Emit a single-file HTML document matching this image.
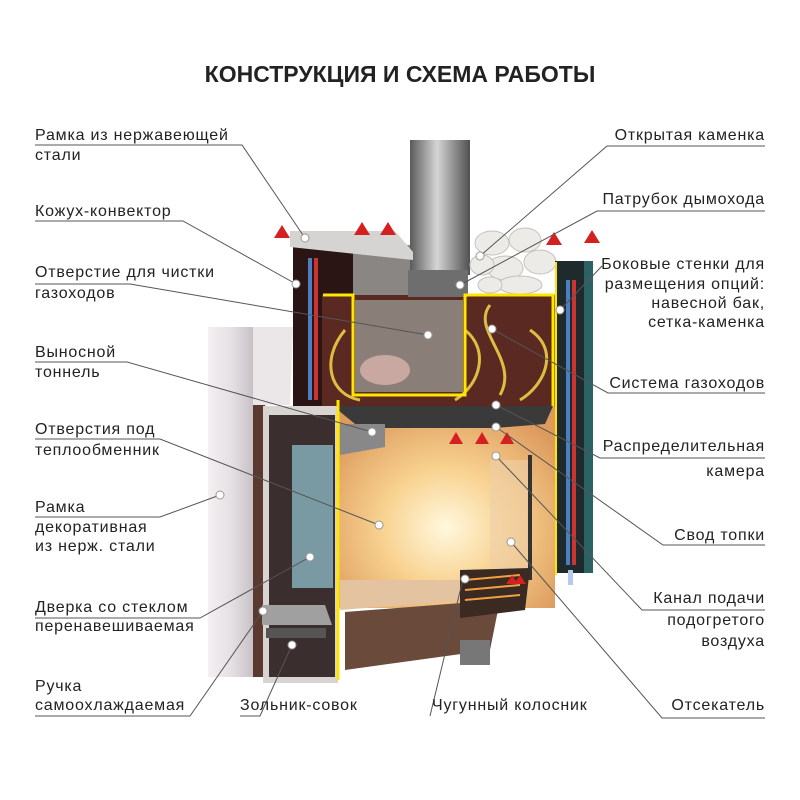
<!DOCTYPE html>
<html><head><meta charset="utf-8"><style>
body{margin:0;background:#fff;}
svg{display:block}
text{font-family:"Liberation Sans",sans-serif;font-size:16px;letter-spacing:0.8px;fill:#222}
.r{text-anchor:end}
</style></head><body>
<svg width="800" height="800" viewBox="0 0 800 800">
<defs>
<radialGradient id="fire" cx="0.5" cy="0.6" r="0.65"><stop offset="0" stop-color="#fff8de"/><stop offset="0.45" stop-color="#f8d290"/><stop offset="1" stop-color="#dc9a5c"/></radialGradient>
<linearGradient id="pan" x1="0" x2="1"><stop offset="0" stop-color="#f4f0f2"/><stop offset="0.5" stop-color="#e6e1e4"/><stop offset="1" stop-color="#c8c2c6"/></linearGradient>
<linearGradient id="pipe" x1="0" x2="1"><stop offset="0" stop-color="#5a5a5a"/><stop offset="0.45" stop-color="#d5d5d5"/><stop offset="1" stop-color="#505050"/></linearGradient>
</defs>
<text x="400" y="82" text-anchor="middle" style="font-size:23px;font-weight:bold;letter-spacing:0;fill:#222">КОНСТРУКЦИЯ И СХЕМА РАБОТЫ</text>
<!-- chimney -->
<rect x="410" y="140" width="60" height="135" fill="url(#pipe)"/>
<!-- stones -->
<g fill="#ecebe7" stroke="#c4c2be">
<ellipse cx="492" cy="243" rx="17" ry="12"/><ellipse cx="525" cy="240" rx="16" ry="12"/><ellipse cx="540" cy="262" rx="16" ry="12"/><ellipse cx="505" cy="268" rx="18" ry="12"/><ellipse cx="482" cy="265" rx="12" ry="10"/><ellipse cx="520" cy="285" rx="22" ry="9"/><ellipse cx="490" cy="285" rx="12" ry="8"/></g>
<!-- left convector -->
<rect x="293" y="245" width="60" height="162" fill="#2a1414"/>
<polygon points="353,245 410,245 410,295 353,295" fill="#8a8684"/>
<polygon points="290,231 395,231 413,252 413,260 290,247" fill="#d6d4d2"/>
<rect x="308" y="258" width="4" height="142" fill="#4a7fc1"/><rect x="314" y="258" width="4" height="142" fill="#c33"/>
<!-- upper box -->
<rect x="322" y="295" width="233" height="112" fill="#5a2a22"/>
<rect x="355" y="300" width="108" height="92" fill="#8a7f78"/>
<ellipse cx="385" cy="370" rx="25" ry="15" fill="#c8a8a0"/>
<rect x="408" y="270" width="60" height="27" fill="#6e6e6e"/>
<g fill="none" stroke="#ffe24a" stroke-width="3" opacity="0.8">
<path d="M345 330 C 320 360, 330 395, 360 400"/><path d="M465 330 C 490 350, 480 385, 455 400"/>
<path d="M490 305 C 470 330, 520 360, 500 395"/><path d="M530 330 C 560 350, 545 385, 520 400"/>
</g>
<polyline points="323,295 353,295 353,395 465,395 465,295 553,295 553,407" fill="none" stroke="#ffe600" stroke-width="3"/>
<!-- firebox -->
<rect x="337" y="407" width="218" height="201" fill="url(#fire)"/>
<polygon points="333,406 553,406 545,424 495,428 360,428" fill="#3a3a3a"/>
<polygon points="340,424 385,424 385,447 340,455" fill="#888"/>
<rect x="490" y="460" width="40" height="115" fill="#efcfa8" opacity="0.6"/>
<rect x="528" y="455" width="4" height="125" fill="#333"/>
<polygon points="340,580 470,580 470,600 340,610" fill="#e3c3a0"/>
<polygon points="345,612 500,600 490,650 345,670" fill="#6a4a3a"/>
<polygon points="460,570 530,568 525,610 460,618" fill="#3a2a22"/>
<g stroke="#f4a040" stroke-width="2"><line x1="465" y1="580" x2="520" y2="575"/><line x1="465" y1="590" x2="520" y2="585"/><line x1="465" y1="600" x2="520" y2="595"/></g>
<rect x="460" y="640" width="30" height="25" fill="#777"/>
<!-- right wall -->
<rect x="555" y="261" width="38" height="312" fill="#1e2a2c"/>
<rect x="584" y="261" width="9" height="312" fill="#2d6265"/>
<rect x="566" y="280" width="4" height="285" fill="#4a7fc1"/><rect x="572" y="280" width="4" height="285" fill="#c33"/>
<rect x="568" y="570" width="5" height="15" fill="#b8c8ee"/>
<line x1="556" y1="262" x2="556" y2="575" stroke="#ffe600" stroke-width="2"/>
<!-- white panel -->
<rect x="208" y="327" width="45" height="350" fill="url(#pan)"/>
<polygon points="253,327 293,327 290,405 253,405" fill="#ebe7e9"/>
<rect x="253" y="405" width="12" height="272" fill="#5a3a30"/>
<!-- door -->
<rect x="263" y="406" width="75" height="277" fill="#d8d4d2"/>
<rect x="269" y="415" width="66" height="262" fill="#3a2e2e"/>
<rect x="292" y="445" width="41" height="143" fill="#7a9aa3"/>
<polygon points="262,605 325,605 332,625 262,625" fill="#a0a0a0"/>
<rect x="266" y="628" width="60" height="10" fill="#555"/>
<line x1="338" y1="400" x2="338" y2="680" stroke="#ffe600" stroke-width="3"/>
<!-- arrows -->
<g fill="#d42020"><polygon points="282,225 290,238 274,238"/><polygon points="362,222 370,235 354,235"/><polygon points="388,222 396,235 380,235"/><polygon points="554,232 562,245 546,245"/><polygon points="592,230 600,243 584,243"/><polygon points="456,432 463,444 449,444"/><polygon points="482,432 489,444 475,444"/><polygon points="507,432 514,444 500,444"/><polygon points="512,575 518,584 506,584"/><polygon points="520,575 526,584 514,584"/></g>
<!-- leader lines -->
<g stroke="#555" stroke-width="1" fill="none">
<polyline points="35,145 242,145 305,238"/>
<polyline points="35,221 183,221 296,284"/>
<polyline points="35,284 130,284 428,335"/>
<polyline points="35,362 127,362 372,432"/>
<polyline points="35,439 160,439 379,525"/>
<polyline points="35,517 160,517 220,495"/>
<polyline points="35,618 200,618 310,557"/>
<polyline points="35,716 190,716 263,611"/>
<polyline points="240,716 260,716 292,645"/>
<polyline points="430,716 463,579"/>
<polyline points="765,718 662,718 511,542"/>
<polyline points="765,146 607,146 480,256"/>
<polyline points="765,211 597,211 460,285"/>
<polyline points="602,266 560,310"/>
<polyline points="765,393 608,393 492,329"/>
<polyline points="765,458 600,458 496,405"/>
<polyline points="765,545 663,545 496,427"/>
<polyline points="765,610 642,610 496,456"/>
</g>
<g fill="#fff" stroke="#999"><circle cx="305" cy="238" r="4"/><circle cx="296" cy="284" r="4"/><circle cx="428" cy="335" r="4"/><circle cx="372" cy="432" r="4"/><circle cx="379" cy="525" r="4"/><circle cx="220" cy="495" r="4"/><circle cx="310" cy="557" r="4"/><circle cx="263" cy="611" r="4"/><circle cx="292" cy="645" r="4"/><circle cx="465" cy="579" r="4"/><circle cx="511" cy="542" r="4"/><circle cx="480" cy="256" r="4"/><circle cx="460" cy="285" r="4"/><circle cx="560" cy="310" r="4"/><circle cx="492" cy="329" r="4"/><circle cx="496" cy="405" r="4"/><circle cx="496" cy="427" r="4"/><circle cx="496" cy="456" r="4"/></g>
<!-- labels -->
<text x="35" y="140">Рамка из нержавеющей</text><text x="35" y="160">стали</text>
<text x="35" y="216">Кожух-конвектор</text>
<text x="35" y="277">Отверстие для чистки</text><text x="35" y="298">газоходов</text>
<text x="35" y="357">Выносной</text><text x="35" y="377">тоннель</text>
<text x="35" y="434">Отверстия под</text><text x="35" y="455">теплообменник</text>
<text x="35" y="512">Рамка</text><text x="35" y="532">декоративная</text><text x="35" y="551">из нерж. стали</text>
<text x="35" y="612">Дверка со стеклом</text><text x="35" y="631">перенавешиваемая</text>
<text x="35" y="691">Ручка</text><text x="35" y="710">самоохлаждаемая</text>
<text x="240" y="710">Зольник-совок</text>
<text x="432" y="710">Чугунный колосник</text>
<text x="765" y="710" class="r">Отсекатель</text>
<text x="765" y="140" class="r">Открытая каменка</text>
<text x="765" y="204" class="r">Патрубок дымохода</text>
<text x="765" y="269" class="r">Боковые стенки для</text><text x="765" y="289" class="r">размещения опций:</text><text x="765" y="308" class="r">навесной бак,</text><text x="765" y="327" class="r">сетка-каменка</text>
<text x="765" y="388" class="r">Система газоходов</text>
<text x="765" y="451" class="r">Распределительная</text><text x="765" y="476" class="r">камера</text>
<text x="765" y="540" class="r">Свод  топки</text>
<text x="765" y="603" class="r">Канал подачи</text><text x="765" y="625" class="r">подогретого</text><text x="765" y="646" class="r">воздуха</text>
</svg>
</body></html>
